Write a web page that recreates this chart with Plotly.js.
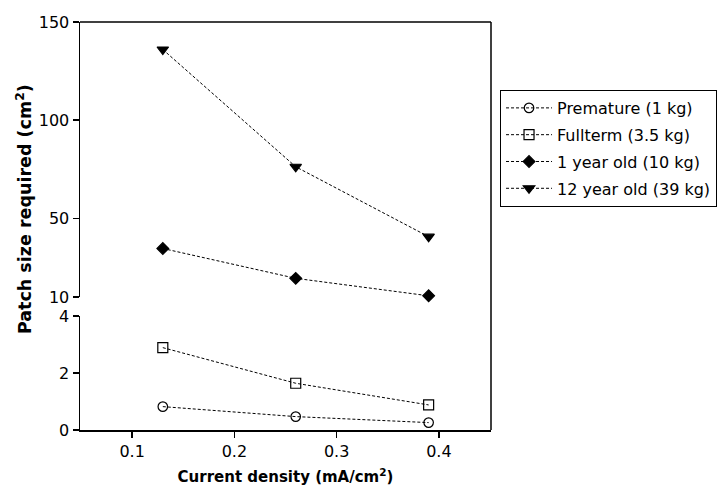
<!DOCTYPE html>
<html>
<head>
<meta charset="utf-8">
<script src="https://cdn.plot.ly/plotly-3.0.1.min.js"></script>
<style>html,body{margin:0;padding:0;background:#fff;}#chart{width:723px;height:488px;}</style>
</head>
<body>
<div id="chart"></div>
<script>
const currentDensity = [0.13, 0.26, 0.39];
const premature = [0.82, 0.47, 0.26];
const fullterm = [2.89, 1.64, 0.88];
const oneYear = [34.7, 19.5, 10.6];
const twelveYear = [136, 76.3, 40.7];
const seriesNames = ['Premature (1 kg)', 'Fullterm (3.5 kg)', '1 year old (10 kg)', '12 year old (39 kg)'];
const xTicks = [0.1, 0.2, 0.3, 0.4];
const yLowTicks = [0, 2, 4];
const yHighTicks = [10, 50, 100, 150];

const FONT = 'DejaVu Sans, Arial, sans-serif';
const lineStyle = {color: '#000', width: 1, dash: '3px,2px'};

function tr(y, name, axis, symbol, size, group) {
  return {
    x: currentDensity, y: y, name: name, yaxis: axis, type: 'scatter', mode: 'lines+markers',
    line: lineStyle, cliponaxis: false, legendgroup: group,
    marker: {symbol: symbol, size: size, color: '#000', line: {color: '#000', width: 1.2}}
  };
}

const data = [
  tr(premature, seriesNames[0], 'y', 'circle-open', 9.5, 'a'),
  tr(fullterm, seriesNames[1], 'y', 'square-open', 10, 'b'),
  tr(oneYear, seriesNames[2], 'y2', 'diamond', 9, 'c'),
  tr(twelveYear, seriesNames[3], 'y2', 'triangle-down', 10, 'd')
];

const axisCommon = {
  showline: true, linecolor: '#000', linewidth: 1.5, ticks: 'outside', ticklen: 6,
  tickwidth: 1.5, tickcolor: '#000', showgrid: false, zeroline: false,
  tickfont: {family: FONT, size: 16, color: '#000'}
};

const layout = {
  width: 723, height: 488,
  margin: {l: 80, r: 232, t: 22, b: 58},
  paper_bgcolor: '#fff', plot_bgcolor: '#fff',
  font: {family: FONT, color: '#000'},
  xaxis: Object.assign({}, axisCommon, {
    range: [0.049, 0.451], tickvals: xTicks, ticktext: xTicks.map(String), anchor: 'y',
    title: {text: '<b>Current density (mA/cm<sup>2</sup>)</b>', font: {family: FONT, size: 15, color: '#000'}, standoff: 12}
  }),
  yaxis: Object.assign({}, axisCommon, {
    domain: [0, 0.2794], range: [0, 4], tickvals: yLowTicks, anchor: 'x'
  }),
  yaxis2: Object.assign({}, axisCommon, {
    domain: [0.326, 1], range: [10, 150], tickvals: yHighTicks, anchor: 'x'
  }),
  shapes: [
    {type: 'line', xref: 'paper', yref: 'paper', x0: 0, x1: 1, y0: 1, y1: 1, line: {color: '#000', width: 1.5}},
    {type: 'line', xref: 'paper', yref: 'paper', x0: 1, x1: 1, y0: 0, y1: 1, line: {color: '#000', width: 1.5}}
  ],
  annotations: [
    {text: '<b>Patch size required (cm<sup>2</sup>)</b>', xref: 'paper', yref: 'paper', x: -0.136, y: 0.5417,
     xanchor: 'center', yanchor: 'middle', textangle: -90, showarrow: false, font: {family: FONT, size: 17.5, color: '#000'}}
  ],
  showlegend: true,
  legend: {
    xref: 'container', yref: 'container',
    x: 0.6916, y: 0.8156, xanchor: 'left', yanchor: 'top', bordercolor: '#000', borderwidth: 1,
    font: {family: FONT, size: 16, color: '#000'}, traceorder: 'grouped', tracegroupgap: 3, bgcolor: '#fff',
    itemwidth: 46
  }
};

Plotly.newPlot('chart', data, layout, {displayModeBar: false, staticPlot: true});
</script>
</body>
</html>
